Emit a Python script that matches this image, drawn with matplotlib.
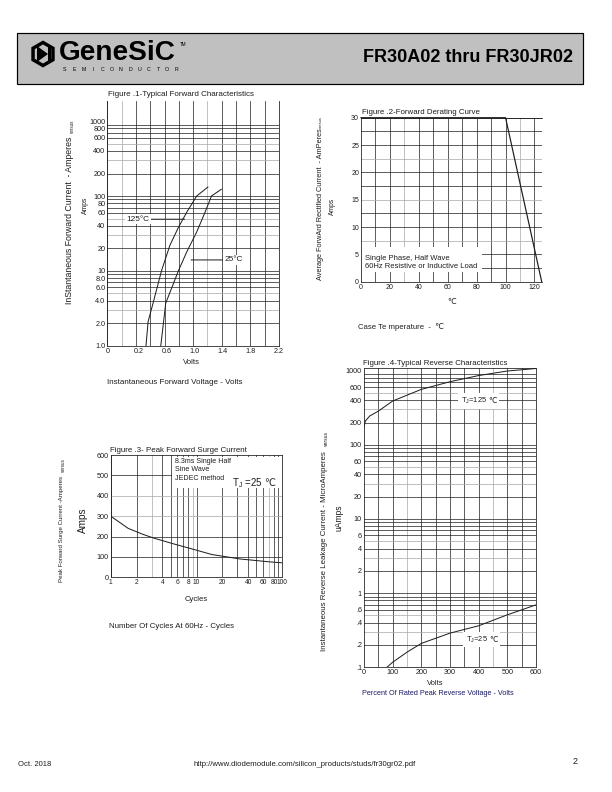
import matplotlib
matplotlib.use('Agg')
import matplotlib.pyplot as plt
import numpy as np
from matplotlib.patches import Rectangle, RegularPolygon, Polygon
from matplotlib.offsetbox import TextArea, HPacker, AnnotationBbox

plt.rcParams['font.family'] = ['Liberation Sans', 'DejaVu Sans']
plt.rcParams['mathtext.fontset'] = 'custom'
plt.rcParams['mathtext.rm'] = 'Liberation Sans'
plt.rcParams['mathtext.it'] = 'Liberation Sans:italic'

W, H = 612, 792
INK = '#1e1e1e'
GRAY = '#a8a8a8'

# Figure 1 - forward characteristics (volts, amps)
fwd_v_125 = [0.31, 0.34, 0.41, 0.53, 0.65, 0.77, 0.89, 1.03, 1.19]
fwd_i_125 = [1.0, 2.1, 3.7, 10, 22, 38, 61, 100, 132]
fwd_v_25 = [0.52, 0.56, 0.59, 0.675, 0.77, 0.89, 1.03, 1.15, 1.24, 1.38]
fwd_i_25 = [1.0, 2.1, 3.7, 5.9, 10, 18, 33, 61, 100, 123]
fwd_yticks = [1000, 800, 600, 400, 200, 100, 80, 60, 40, 20, 10, 8, 6, 4, 2, 1]
fwd_ylabels = ['1000', '800', '600', '400', '200', '100', '80', '60', '40', '20',
               '10', '8.0', '6.0', '4.0', '2.0', '1.0']
fwd_xticks = [-0.24, 0.2, 0.6, 1.0, 1.4, 1.8, 2.2]
fwd_xlabels = ['0', '0.2', '0.6', '1.0', '1.4', '1.8', '2.2']

# Figure 2 - derating curve
derate_t = [0, 100, 125]
derate_i = [30, 30, 0]

# Figure 3 - surge current
surge_cycles = [1, 1.6, 2.4, 3.2, 5.3, 10, 15, 32, 70, 100]
surge_amps = [300, 240, 210, 192, 165, 133, 112, 90, 76, 71]
surge_xticks = [1, 2, 4, 6, 8, 10, 20, 40, 60, 80, 100]

# Figure 4 - reverse characteristics
rev_v_125 = [0, 5, 20, 50, 100, 200, 300, 400, 500, 600]
rev_i_125 = [175, 210, 245, 285, 390, 560, 710, 860, 990, 1070]
rev_v_25 = [80, 100, 150, 200, 300, 400, 500, 600]
rev_i_25 = [0.1, 0.117, 0.16, 0.21, 0.289, 0.363, 0.51, 0.695]
rev_yticks = [1000, 600, 400, 200, 100, 60, 40, 20, 10, 6, 4, 2, 1, .6, .4, .2, .1]
rev_ylabels = ['1000', '600', '400', '200', '100', '60', '40', '20', '10', '6', '4', '2',
               '1', '.6', '.4', '.2', '.1']

fig = plt.figure(figsize=(W / 72, H / 72), dpi=72)

# page overlay in pixel units
page = fig.add_axes([0, 0, 1, 1])
page.set_xlim(0, W)
page.set_ylim(H, 0)
page.axis('off')


def px_axes(l, t, r, b):
    return fig.add_axes([l / W, 1 - b / H, (r - l) / W, (b - t) / H])


def style(ax, hide=(), size=7.3):
    for s in ax.spines.values():
        s.set_linewidth(0.8)
        s.set_color(INK)
    for s in hide:
        ax.spines[s].set_visible(False)
    ax.tick_params(length=0, labelsize=size, colors=INK, pad=2)
    ax.set_axisbelow(True)


def grid(ax, xs=(), ys=(), gx=(), gy=()):
    for v in xs:
        ax.axvline(v, color=GRAY if v in gx else INK, lw=0.7, zorder=0.5)
    for v in ys:
        ax.axhline(v, color=GRAY if v in gy else INK, lw=0.7, zorder=0.5)


def log_lines(lo, hi):
    out = []
    d = lo
    while d < hi:
        out += [d * m for m in range(1, 10)]
        d *= 10
    return [v for v in out if v <= hi]


def tj_label(ax, xy, main, size, white=True):
    box = HPacker(children=[TextArea(main, textprops=dict(fontsize=size, color=INK)),
                            TextArea('℃', textprops=dict(fontsize=size, color=INK,
                                                         family='DejaVu Sans'))],
                  align='baseline', pad=0, sep=1)
    ab = AnnotationBbox(box, xy, frameon=white, pad=0.25, box_alignment=(0.5, 0.5),
                        bboxprops=dict(fc='white', ec='none'), zorder=4)
    ax.add_artist(ab)


# ---- header
page.add_patch(Rectangle((17, 33), 566, 51, fc='#c0c0c0', ec='black', lw=1.2))
page.add_patch(RegularPolygon((43, 54), 6, radius=13.5, fc='black'))
page.add_patch(RegularPolygon((43, 54), 6, radius=9.5, fc='#c0c0c0'))
page.add_patch(Polygon([(37, 46), (37, 62), (48, 54)], fc='black'))
page.add_patch(Rectangle((48, 46), 2.5, 16, fc='black'))
page.text(59, 53, 'GeneSiC', fontsize=28, fontweight='bold', va='center', ha='left', color='black')
page.text(180, 44, 'TM', fontsize=4.5, va='center', color='black')
for i, ch in enumerate('SEMICONDUCTOR'):
    page.text(65 + i * 9.3, 69.5, ch, fontsize=5.2, ha='center', va='center', color='black')
page.text(573, 57, 'FR30A02 thru FR30JR02', fontsize=18, fontweight='bold',
          ha='right', va='center', color='black')

# ---- figure 1
ax1 = px_axes(107.3, 100.7, 279, 345.7)
ax1.set_yscale('log')
ax1.set_xlim(-0.24, 2.2)
ax1.set_ylim(1, 1880)
style(ax1, hide=('top',))
vg = list(np.linspace(-0.24, 2.2, 13))
grid(ax1, xs=vg, gx=[vg[1], vg[7]])
hl = log_lines(1, 1000)
grid(ax1, ys=hl, gy=[v for v in hl if str(v)[0] in '35'])
ax1.plot(fwd_v_125, fwd_i_125, color=INK, lw=1)
ax1.plot(fwd_v_25, fwd_i_25, color=INK, lw=1)
ax1.set_yticks(fwd_yticks)
ax1.set_yticklabels(fwd_ylabels)
ax1.yaxis.set_minor_locator(matplotlib.ticker.NullLocator())
ax1.set_xticks(fwd_xticks)
ax1.set_xticklabels(fwd_xlabels)
lead = dict(arrowstyle='-', lw=1, color=INK, shrinkA=0, shrinkB=0)
ax1.annotate('125°C', xy=(0.86, 49), xytext=(0.2, 49), ha='center', va='center', fontsize=8.2,
             color=INK, bbox=dict(fc='white', ec='none', pad=1.5), arrowprops=lead)
ax1.annotate('25°C', xy=(0.95, 14), xytext=(1.55, 14), ha='center', va='center', fontsize=8.3,
             color=INK, bbox=dict(fc='white', ec='none', pad=1.5), arrowprops=lead)
page.text(108, 95, 'Figure .1-Typical Forward Characteristics', fontsize=8, va='center', color=INK)
page.text(191.7, 362, 'Volts', fontsize=7.8, ha='center', va='center', color=INK)
page.text(175, 382, 'Instantaneous Forward Voltage - Volts', fontsize=8, ha='center', va='center', color=INK)
page.text(70, 220, 'InStantaneous Forward Current  - Amperes', rotation=90, fontsize=8.8,
          ha='center', va='center', color=INK)
page.text(72, 133, 'versus', rotation=90, fontsize=4.5, ha='center', va='bottom', color=INK)
page.text(85, 205, 'Amps', rotation=90, fontsize=6.8, ha='center', va='center', color=INK)

# ---- figure 2
ax2 = px_axes(361, 117.7, 541.7, 281.7)
ax2.set_xlim(0, 125)
ax2.set_ylim(0, 30)
style(ax2, hide=('right',), size=7)
grid(ax2, xs=list(range(10, 121, 10)), gx=[30, 110],
     ys=list(np.arange(2.5, 30.1, 2.5)), gy=[7.5, 15, 22.5])
ax2.add_patch(Rectangle((0, 0.06), 0.668, 0.152, transform=ax2.transAxes, fc='white', ec='none', zorder=1))
ax2.plot(derate_t, derate_i, color=INK, lw=1.2, clip_on=False, zorder=3)
ax2.set_xticks(range(0, 121, 20))
ax2.set_yticks(range(0, 31, 5))
ax2.text(2.8, 3.5, 'Single Phase, Half Wave\n60Hz Resistive or Inductive Load', fontsize=7.6,
         va='center', ha='left', linespacing=1.2, color=INK, zorder=4)
page.text(361.7, 112.3, 'Figure .2-Forward Derating Curve', fontsize=7.9, va='center', color=INK)
page.text(320, 204, 'Average ForwArd Rectified Current  - AmPeres', rotation=90, fontsize=7.4,
          ha='center', va='center', color=INK)
page.text(321, 128, 'versus', rotation=90, fontsize=4, ha='center', va='bottom', color=INK)
page.text(332.7, 206.7, 'Amps', rotation=90, fontsize=6.6, ha='center', va='center', color=INK)
page.text(451.7, 302.3, '℃', fontsize=7.7, ha='center', va='center', color=INK)
page.text(358, 327.3, 'Case Te mperature  -  ℃', fontsize=7.7, ha='left', va='center', color=INK)

# ---- figure 3
ax3 = px_axes(110.7, 455, 282.3, 577.3)
ax3.set_xscale('log')
ax3.set_xlim(1, 100)
ax3.set_ylim(0, 600)
style(ax3)
ax3.tick_params(axis='x', labelsize=6.6)
grid(ax3, xs=log_lines(1, 100), gx=[3, 9, 70],
     ys=[100, 200, 300, 400, 500], gy=[300, 400])
ax3.add_patch(Rectangle((0.355, 0.728), 0.645, 0.258, transform=ax3.transAxes, fc='white', ec='none', zorder=1))
ax3.plot(surge_cycles, surge_amps, color=INK, lw=1, zorder=3)
ax3.set_xticks(surge_xticks)
ax3.set_xticklabels([str(v) for v in surge_xticks])
ax3.xaxis.set_minor_locator(matplotlib.ticker.NullLocator())
ax3.set_yticks(range(0, 601, 100))
ax3.text(5.6, 586, '8.3ms Single Half\nSine Wave\nJEDEC method', fontsize=7.1, va='top', ha='left',
         linespacing=1.3, color=INK, zorder=4)
tj_label(ax3, (46, 464), r'T$_{\rm J}$ =25', 9.8, white=False)
page.text(110, 450.7, 'Figure .3- Peak Forward Surge Current', fontsize=7.9, va='center', color=INK)
page.text(62, 529, 'Peak Forward Surge Current -Amperes', rotation=90, fontsize=6.1,
          ha='center', va='center', color=INK)
page.text(63, 471.5, 'versus', rotation=90, fontsize=4.6, ha='center', va='bottom', color=INK)
page.text(83.3, 520, 'Amps', rotation=90, fontsize=10, ha='center', va='center', color=INK)
page.text(196.7, 599.3, 'Cycles', fontsize=7.7, ha='center', va='center', color=INK)
page.text(109.3, 627, 'Number Of Cycles At 60Hz - Cycles', fontsize=7.9, ha='left', va='center', color=INK)

# ---- figure 4
ax4 = px_axes(364, 368.3, 536, 667.3)
ax4.set_yscale('log')
ax4.set_xlim(0, 600)
ax4.set_ylim(0.1, 1077)
style(ax4)
grid(ax4, xs=list(range(50, 600, 50)), gx=[150, 450])
hl4 = log_lines(0.1, 1000)
grid(ax4, ys=hl4, gy=[v for v in hl4 if ('%g' % v).strip('0.')[0] in '35'])
ax4.plot(rev_v_125, rev_i_125, color=INK, lw=1)
ax4.plot(rev_v_25, rev_i_25, color=INK, lw=1)
ax4.set_yticks(rev_yticks)
ax4.set_yticklabels(rev_ylabels)
ax4.yaxis.set_minor_locator(matplotlib.ticker.NullLocator())
ax4.set_xticks(range(0, 601, 100))
tj_label(ax4, (399, 391), r'T$_{\rm J}$=125 ', 7.5)
tj_label(ax4, (410, 0.235), r'T$_{\rm J}$=25 ', 7.5)
page.text(363.3, 363.3, 'Figure .4-Typical Reverse Characteristics', fontsize=7.9, va='center', color=INK)
page.text(325, 551, 'Instantaneous Reverse Leakage Current - MicroAmperes', rotation=90, fontsize=7.9,
          ha='center', va='center', color=INK)
page.text(326, 446, 'versus', rotation=90, fontsize=5, ha='center', va='bottom', color=INK)
page.text(339.3, 518, 'uAmps', rotation=90, fontsize=8.5, ha='center', va='center', color=INK)
page.text(435, 683.3, 'Volts', fontsize=7.5, ha='center', va='center', color=INK)
page.text(438.3, 693.3, 'Percent Of Rated Peak Reverse Voltage - Volts', fontsize=7.2,
          ha='center', va='center', color='#1a1a66')

# ---- footer
page.text(18, 764, 'Oct. 2018', fontsize=7.6, va='center', color=INK)
page.text(304.7, 764, 'http://www.diodemodule.com/silicon_products/studs/fr30gr02.pdf', fontsize=7.8,
          ha='center', va='center', color=INK)
page.text(573, 761, '2', fontsize=9, va='center', color=INK)

fig.savefig('out.png', dpi=72)
